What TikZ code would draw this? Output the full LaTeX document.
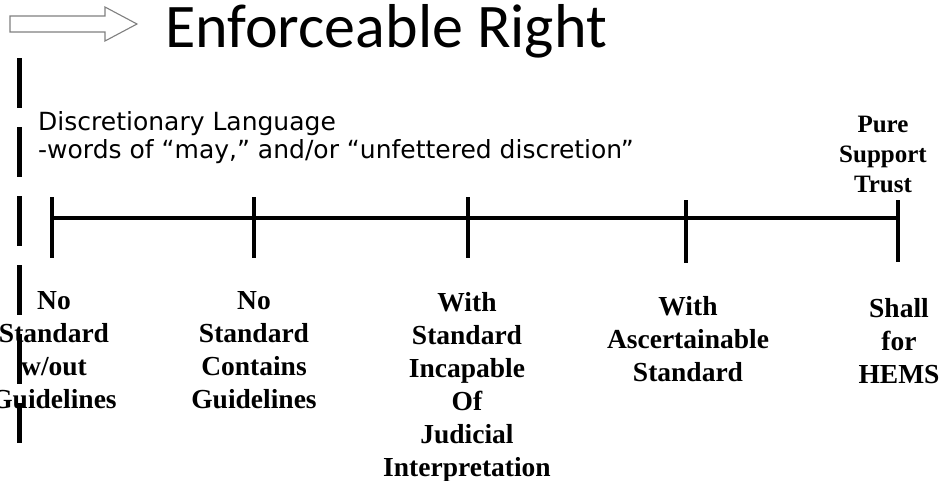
\documentclass[tikz,border=0pt]{standalone}
\usepackage{fontspec}
\setmainfont{Liberation Serif}
\newfontfamily\titlefont{Carlito}
\newfontfamily\notefont{DejaVu Sans}
\begin{document}
\begin{tikzpicture}[x=1pt,y=-1pt,
  scaleline/.style={line width=3.5pt,black},
  tickmark/.style={line width=3.5pt,black},
  pointlabel/.style={inner sep=0pt,anchor=north,align=center,
    font=\fontsize{27.5}{33}\selectfont\bfseries},
  toplabel/.style={inner sep=0pt,anchor=north,align=center,
    font=\fontsize{25}{30}\selectfont\bfseries},
  hollowarrow/.style={draw=black!50,line width=1.1pt,fill=white}]
\useasboundingbox[fill=white] (0,0) rectangle (942,480);

% hollow block arrow and heading
\draw[hollowarrow] (10,16) -- (105,16) -- (105,7) -- (137,24) -- (105,41)
  -- (105,32) -- (10,32) -- cycle;
\node[inner sep=0pt,anchor=base west,font=\titlefont\fontsize{62}{62}\selectfont]
  (title) at (165,47) {Enforceable Right};

% dashed divider on the left
\coordinate (dtop) at (19,58);
\coordinate (dbot) at (19,443);
\draw[line width=5pt,dash pattern=on 50pt off 19pt] (dtop) -- (dbot);

% note above the scale (base anchor sits on the last line)
\node[inner sep=0pt,anchor=base west,align=left,
  font=\notefont\fontsize{25}{28}\selectfont] (note) at (38,158)
  {Discretionary Language\\-words of “may,” and/or “unfettered discretion”};

% the scale and its tick marks
\coordinate (t1) at (52,218);
\coordinate (t2) at (254,218);
\coordinate (t3) at (468,218);
\coordinate (t4) at (686,218);
\coordinate (t5) at (898,218);
\draw[scaleline] (t1) -- (t5);
\draw[tickmark] ([yshift=21pt]t1) -- ([yshift=-40pt]t1);
\draw[tickmark] ([yshift=21pt]t2) -- ([yshift=-40pt]t2);
\draw[tickmark] ([yshift=21pt]t3) -- ([yshift=-40pt]t3);
\draw[tickmark] ([yshift=18pt]t4) -- ([yshift=-45pt]t4);
\draw[tickmark] ([yshift=18pt]t5) -- ([yshift=-44pt]t5);

% labels
\node[toplabel] (pure) at (883,116) {Pure\\Support\\Trust};
\node[pointlabel] (l1) at (54,291) {No\\Standard\\w/out\\Guidelines};
\node[pointlabel] (l2) at (254,291) {No\\Standard\\Contains\\Guidelines};
\node[pointlabel] (l3) at (467,292) {With\\Standard\\Incapable\\Of\\Judicial\\Interpretation};
\node[pointlabel] (l4) at (688,296) {With\\Ascertainable\\Standard};
\node[pointlabel] (l5) at (899,298) {Shall\\for\\HEMS};
\end{tikzpicture}
\end{document}
